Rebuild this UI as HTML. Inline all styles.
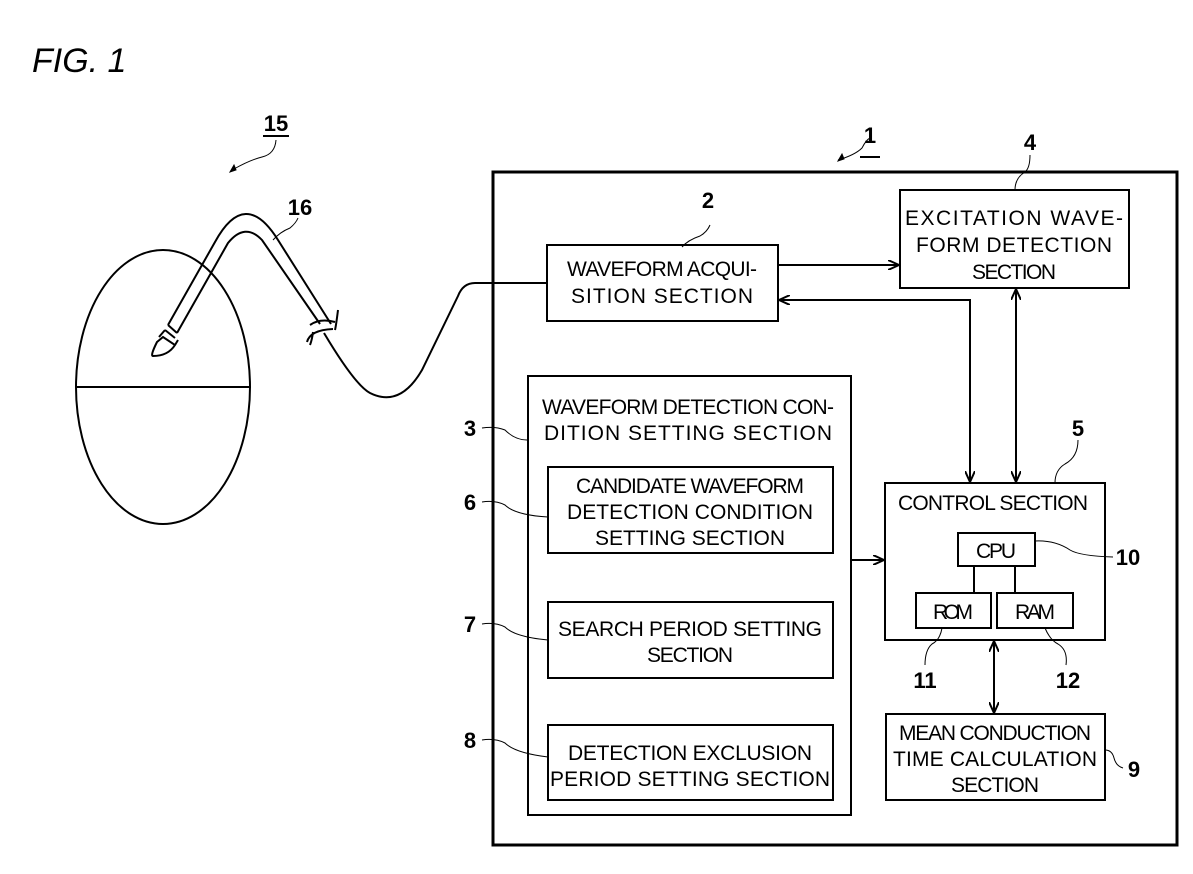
<!DOCTYPE html>
<html><head><meta charset="utf-8"><style>body{margin:0;background:#fff}svg{display:block}</style></head><body>
<svg width="1193" height="874" viewBox="0 0 1193 874" xmlns="http://www.w3.org/2000/svg" font-family="Liberation Sans, sans-serif">
<defs><marker id="a" markerWidth="12" markerHeight="10" refX="11" refY="5" orient="auto-start-reverse" markerUnits="userSpaceOnUse"><path d="M0,0 L11,5 L0,10" fill="none" stroke="#000" stroke-width="2"/></marker></defs>
<g fill="none" stroke="#000" stroke-width="2">
<text x="32" y="72" font-size="34" font-style="italic" fill="#000" stroke="none">FIG. 1</text>
<rect x="493" y="172" width="684" height="673" stroke-width="3"/>
<rect x="547" y="245" width="231" height="76"/>
<rect x="900" y="190" width="229" height="98"/>
<rect x="528" y="376" width="323" height="439"/>
<rect x="548" y="467" width="285" height="86"/>
<rect x="548" y="602" width="285" height="76"/>
<rect x="548" y="725" width="285" height="75"/>
<rect x="885" y="483" width="220" height="157"/>
<rect x="958" y="533" width="77" height="33"/>
<rect x="916" y="593" width="75" height="35"/>
<rect x="997" y="593" width="76" height="35"/>
<rect x="886" y="714" width="219" height="86"/>
<path d="M974,566 V593 M1015,566 V593"/>
<path d="M778,265 H899" marker-end="url(#a)"/>
<path d="M970,482 V300 H779" marker-start="url(#a)" marker-end="url(#a)"/>
<path d="M1016,482 V289" marker-start="url(#a)" marker-end="url(#a)"/>
<path d="M851,560 H884" marker-end="url(#a)"/>
<path d="M994,641 V713" marker-start="url(#a)" marker-end="url(#a)"/>
<ellipse cx="163" cy="387" rx="87" ry="137"/>
<path d="M76,387 H251"/>
<path d="M547,283 H475 Q463,283 458,296 L422,370 Q400,408 370,393 Q355,385 324,333"/>
<path d="M177,333 L228,243 Q245,222 262,240 L320,324 M168,325 L215,242 Q245,187 278,240 L331,324"/>
<path d="M168,325 L177,333 M165,330 L175,338 M157,342 Q150,356 153,356 Q168,356 175,345 L163,337 Z M159,337 L165,330 M175,345 L178,340"/>
<path d="M310,325 Q320,318 335,322 M307,342 Q310,330 333,329 M338,310 Q336,326 335,330 M313,332 Q312,340 310,345"/>
<path d="M234,169 Q250,160 262,157 Q275,154 276,140" stroke-width="1"/>
<path d="M230,172 l4,-7 l2,5 z" fill="#000" stroke-width="1"/>
<path d="M263,136 H289 M860,157 H880" stroke-width="2"/>
<path d="M838,160 Q855,155 862,148 Q866,140 870,138" stroke-width="1"/>
<path d="M838,161 l4,-7 l2,5 z" fill="#000" stroke-width="1"/>
<path d="M273,240 Q280,232 290,228 Q296,223 298,218 M682,247 Q688,240 700,236 Q707,232 710,225 M1015,190 Q1015,178 1025,172 Q1030,168 1030,155 M1055,483 Q1055,470 1065,464 Q1078,457 1078,440 M482,428 Q495,426 505,430 Q515,440 527,440 M482,502 Q495,500 505,505 Q515,515 548,517 M482,624 Q495,622 505,627 Q515,637 548,640 M482,740 Q495,738 505,743 Q515,753 548,757 M1035,541 Q1055,540 1070,550 Q1080,556 1113,557 M942,628 Q940,640 932,644 Q925,650 925,665 M1045,628 Q1050,640 1058,644 Q1068,650 1066,665 M1105,750 Q1112,750 1114,758 Q1116,766 1123,768" stroke-width="1"/>
</g>
<g fill="#000" font-size="22" text-anchor="middle" font-weight="bold">
<text x="276" y="131">15</text><text x="300" y="215">16</text>
<text x="870" y="143">1</text><text x="708" y="208">2</text><text x="1030" y="150">4</text>
<text x="1078" y="436">5</text><text x="470" y="436">3</text><text x="470" y="510">6</text>
<text x="470" y="632">7</text><text x="470" y="748">8</text><text x="1128" y="565">10</text>
<text x="925" y="688">11</text><text x="1068" y="688">12</text><text x="1134" y="777">9</text>
</g>
<g fill="#000" font-size="21" text-anchor="middle" lengthAdjust="spacingAndGlyphs">
<text x="662" y="276" textLength="190">WAVEFORM ACQUI-</text>
<text x="662" y="303" textLength="182">SITION SECTION</text>
<text x="1014" y="225" textLength="218">EXCITATION WAVE-</text>
<text x="1014" y="252" textLength="196">FORM DETECTION</text>
<text x="1014" y="279" textLength="84">SECTION</text>
<text x="688" y="414" textLength="292">WAVEFORM DETECTION CON-</text>
<text x="688" y="440" textLength="288">DITION SETTING SECTION</text>
<text x="690" y="493" textLength="228">CANDIDATE WAVEFORM</text>
<text x="690" y="519" textLength="246">DETECTION CONDITION</text>
<text x="690" y="545" textLength="190">SETTING SECTION</text>
<text x="690" y="636" textLength="264">SEARCH PERIOD SETTING</text>
<text x="690" y="662" textLength="86">SECTION</text>
<text x="690" y="760" textLength="244">DETECTION EXCLUSION</text>
<text x="690" y="786" textLength="280">PERIOD SETTING SECTION</text>
<text x="993" y="510" textLength="190">CONTROL SECTION</text>
<text x="996" y="558" textLength="40">CPU</text>
<text x="953" y="619" textLength="40">ROM</text>
<text x="1035" y="619" textLength="40">RAM</text>
<text x="995" y="740" textLength="192">MEAN CONDUCTION</text>
<text x="995" y="766" textLength="204">TIME CALCULATION</text>
<text x="995" y="792" textLength="88">SECTION</text>
</g>
</svg>
</body></html>
